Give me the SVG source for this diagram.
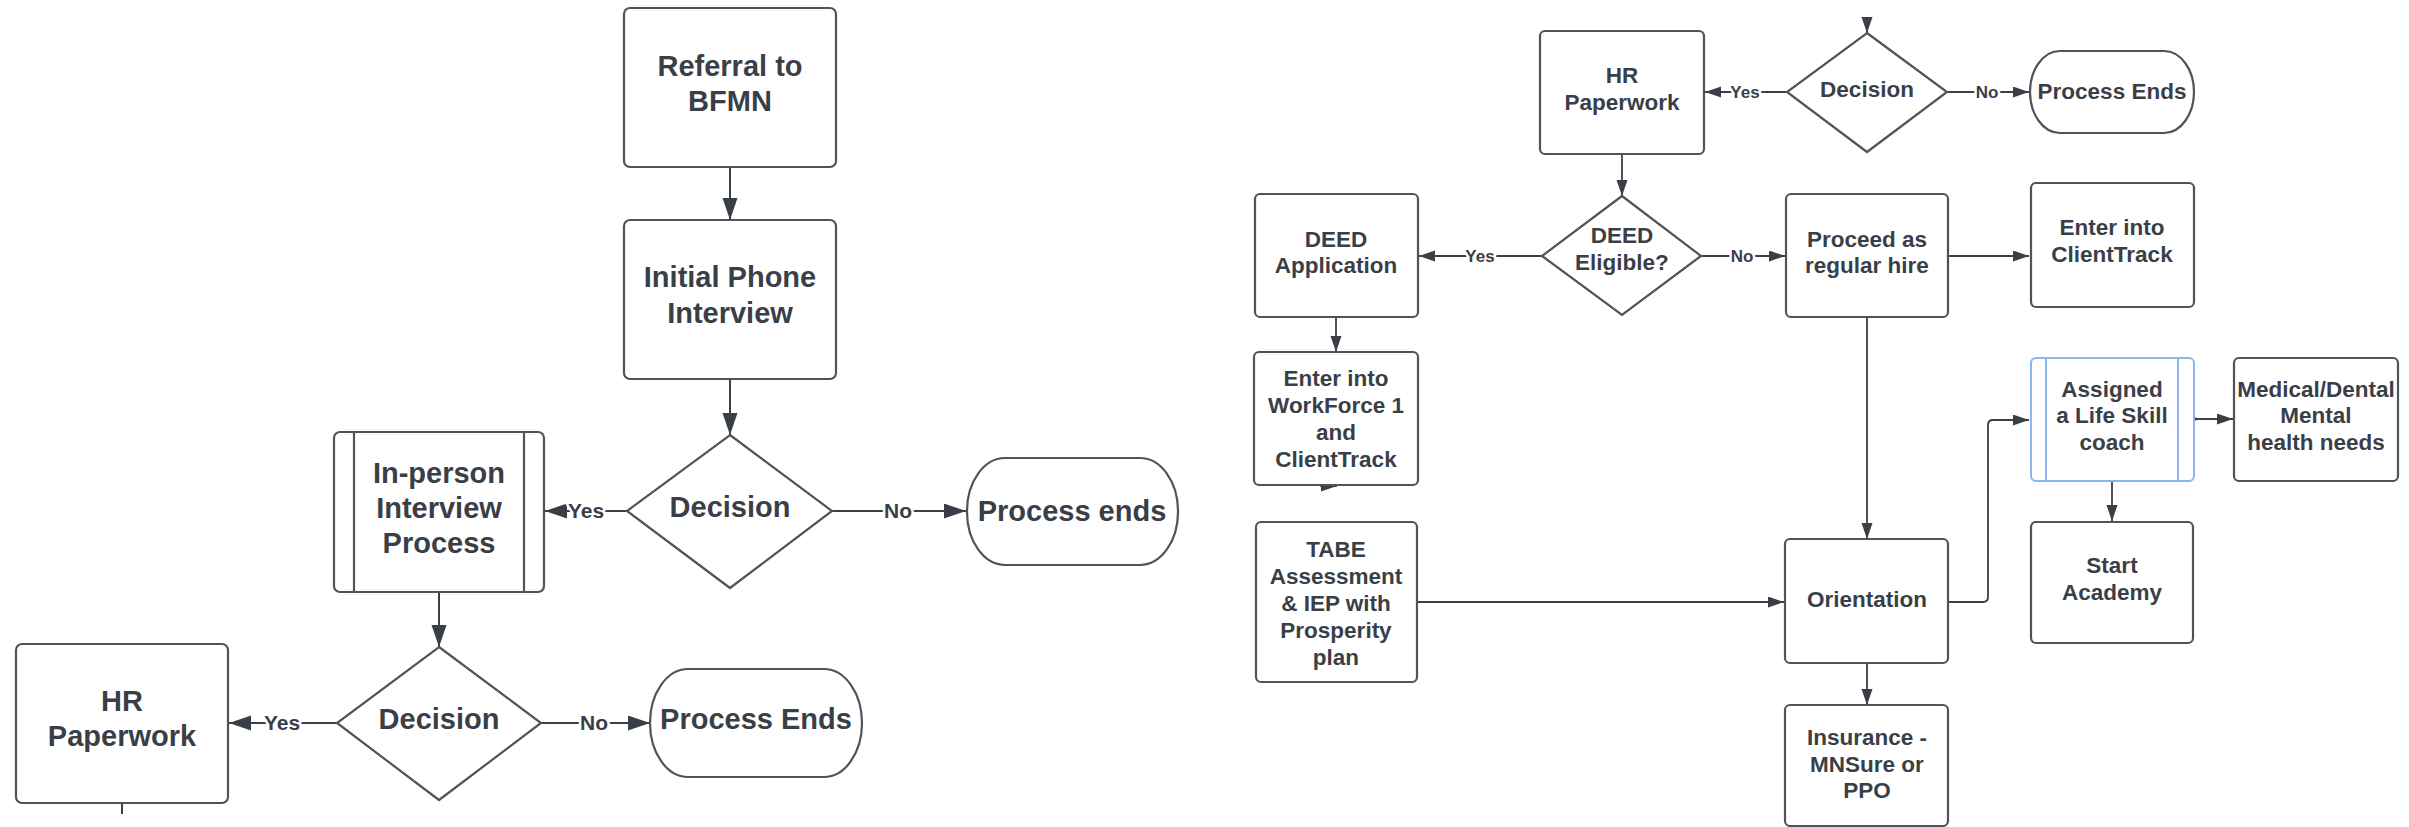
<svg xmlns="http://www.w3.org/2000/svg" width="2409" height="827" viewBox="0 0 2409 827">
<style>
.box{fill:#fff;stroke:#505459;stroke-width:2.2}
.blue{fill:#fff;stroke:#8ab8ec;stroke-width:2}
.bl{stroke:#8ab8ec;stroke-width:2}
.inner{stroke:#505459;stroke-width:2.2}
.t{font-family:"Liberation Sans",Arial,sans-serif;font-weight:bold;fill:#3a3f47;text-anchor:middle}
.L{font-size:29px}
.R{font-size:22.5px}
.c{stroke:#3a3f47;stroke-width:2;fill:none}
.cr{stroke:#3a3f47;stroke-width:1.8;fill:none}
.lbl{font-family:"Liberation Sans",Arial,sans-serif;font-weight:bold;fill:#3a3f47;text-anchor:middle;paint-order:stroke;stroke:#fff;stroke-width:5px;stroke-linejoin:round}
.lL{font-size:21px}
.lR{font-size:17px}
</style>
<defs>
<marker id="aL" markerUnits="userSpaceOnUse" markerWidth="23" markerHeight="16" refX="22" refY="7.5" orient="auto"><path d="M0,0 L22,7.5 L0,15 z" fill="#3a3f47"/></marker>
<marker id="aR" markerUnits="userSpaceOnUse" markerWidth="17" markerHeight="12" refX="16" refY="5.5" orient="auto"><path d="M0,0 L16,5.5 L0,11 z" fill="#3a3f47"/></marker>
</defs>
<rect width="2409" height="827" fill="#fff"/>

<g id="connectors">
<path class="c" d="M730,167 V220" marker-end="url(#aL)"/>
<path class="c" d="M730,379 V435" marker-end="url(#aL)"/>
<path class="c" d="M627,511 H545" marker-end="url(#aL)"/>
<path class="c" d="M832,511 H966" marker-end="url(#aL)"/>
<path class="c" d="M439,592 V647" marker-end="url(#aL)"/>
<path class="c" d="M337,723 H229" marker-end="url(#aL)"/>
<path class="c" d="M541,723 H650" marker-end="url(#aL)"/>
<path class="c" d="M122,803 V814"/>

<path class="cr" d="M1867,18 V33" marker-end="url(#aR)"/>
<path class="cr" d="M1787,92 H1705" marker-end="url(#aR)"/>
<path class="cr" d="M1947,92 H2029" marker-end="url(#aR)"/>
<path class="cr" d="M1622,154 V196" marker-end="url(#aR)"/>
<path class="cr" d="M1542,256 H1419" marker-end="url(#aR)"/>
<path class="cr" d="M1701,256 H1785" marker-end="url(#aR)"/>
<path class="cr" d="M1948,256 H2029" marker-end="url(#aR)"/>
<path class="cr" d="M1336,317 V352" marker-end="url(#aR)"/>
<path class="cr" d="M1320,486 H1337" marker-end="url(#aR)"/>
<path class="cr" d="M1417,602 H1784" marker-end="url(#aR)"/>
<path class="cr" d="M1867,317 V539" marker-end="url(#aR)"/>
<path class="cr" d="M1867,663 V705" marker-end="url(#aR)"/>
<path class="cr" d="M1948,602 H1983 Q1988,602 1988,597 V425 Q1988,420 1993,420 H2029" marker-end="url(#aR)"/>
<path class="cr" d="M2186,419 H2200" marker-end="url(#aR)"/>
<path class="cr" d="M2200,419 H2233" marker-end="url(#aR)"/>
<path class="cr" d="M2112,481 V521" marker-end="url(#aR)"/>

<text class="lbl lL" x="586" y="518">Yes</text>
<text class="lbl lL" x="898" y="518">No</text>
<text class="lbl lL" x="282" y="730">Yes</text>
<text class="lbl lL" x="594" y="730">No</text>
<text class="lbl lR" x="1745" y="98">Yes</text>
<text class="lbl lR" x="1987" y="98">No</text>
<text class="lbl lR" x="1480" y="262">Yes</text>
<text class="lbl lR" x="1742" y="262">No</text>
</g>

<g id="referral">
<rect class="box" x="624" y="8" width="212" height="159" rx="6"/>
<text class="t L" x="730" y="76">Referral to</text>
<text class="t L" x="730" y="111">BFMN</text>
</g>
<g id="phone">
<rect class="box" x="624" y="220" width="212" height="159" rx="6"/>
<text class="t L" x="730" y="287">Initial Phone</text>
<text class="t L" x="730" y="323">Interview</text>
</g>
<g id="decision1">
<path class="box" d="M730,435 L832,511 L730,588 L627,511 z"/>
<text class="t L" x="730" y="517">Decision</text>
</g>
<g id="inperson">
<rect class="box" x="334" y="432" width="210" height="160" rx="6"/>
<line class="inner" x1="354" y1="432" x2="354" y2="592"/>
<line class="inner" x1="524" y1="432" x2="524" y2="592"/>
<text class="t L" x="439" y="483">In-person</text>
<text class="t L" x="439" y="518">Interview</text>
<text class="t L" x="439" y="553">Process</text>
</g>
<g id="processends1">
<rect class="box" x="967" y="458" width="211" height="107" rx="38" ry="53"/>
<text class="t L" x="1072" y="521">Process ends</text>
</g>
<g id="decision2">
<path class="box" d="M439,647 L541,723 L439,800 L337,723 z"/>
<text class="t L" x="439" y="729">Decision</text>
</g>
<g id="hr1">
<rect class="box" x="16" y="644" width="212" height="159" rx="6"/>
<text class="t L" x="122" y="711">HR</text>
<text class="t L" x="122" y="746">Paperwork</text>
</g>
<g id="processends2">
<rect class="box" x="650" y="669" width="212" height="108" rx="38" ry="54"/>
<text class="t L" x="756" y="729">Process Ends</text>
</g>

<g id="decision3">
<path class="box" d="M1867,33 L1947,92 L1867,152 L1787,92 z"/>
<text class="t R" x="1867" y="97">Decision</text>
</g>
<g id="hr2">
<rect class="box" x="1540" y="31" width="164" height="123" rx="5"/>
<text class="t R" x="1622" y="83">HR</text>
<text class="t R" x="1622" y="110">Paperwork</text>
</g>
<g id="processends3">
<rect class="box" x="2030" y="51" width="164" height="82" rx="30" ry="41"/>
<text class="t R" x="2112" y="99">Process Ends</text>
</g>
<g id="deedeligible">
<path class="box" d="M1622,196 L1701,256 L1622,315 L1542,256 z"/>
<text class="t R" x="1622" y="243">DEED</text>
<text class="t R" x="1622" y="270">Eligible?</text>
</g>
<g id="deedapp">
<rect class="box" x="1255" y="194" width="163" height="123" rx="5"/>
<text class="t R" x="1336" y="247">DEED</text>
<text class="t R" x="1336" y="273">Application</text>
</g>
<g id="proceed">
<rect class="box" x="1786" y="194" width="162" height="123" rx="5"/>
<text class="t R" x="1867" y="247">Proceed as</text>
<text class="t R" x="1867" y="273">regular hire</text>
</g>
<g id="clienttrack">
<rect class="box" x="2031" y="183" width="163" height="124" rx="5"/>
<text class="t R" x="2112" y="235">Enter into</text>
<text class="t R" x="2112" y="262">ClientTrack</text>
</g>
<g id="workforce">
<rect class="box" x="1254" y="352" width="164" height="133" rx="5"/>
<text class="t R" x="1336" y="386">Enter into</text>
<text class="t R" x="1336" y="413">WorkForce 1</text>
<text class="t R" x="1336" y="440">and</text>
<text class="t R" x="1336" y="467">ClientTrack</text>
</g>
<g id="tabe">
<rect class="box" x="1256" y="522" width="161" height="160" rx="5"/>
<text class="t R" x="1336" y="557">TABE</text>
<text class="t R" x="1336" y="584">Assessment</text>
<text class="t R" x="1336" y="611">&amp; IEP with</text>
<text class="t R" x="1336" y="638">Prosperity</text>
<text class="t R" x="1336" y="665">plan</text>
</g>
<g id="orientation">
<rect class="box" x="1785" y="539" width="163" height="124" rx="5"/>
<text class="t R" x="1867" y="607">Orientation</text>
</g>
<g id="insurance">
<rect class="box" x="1785" y="705" width="163" height="121" rx="5"/>
<text class="t R" x="1867" y="745">Insurance -</text>
<text class="t R" x="1867" y="772">MNSure or</text>
<text class="t R" x="1867" y="798">PPO</text>
</g>
<g id="assigned">
<rect class="blue" x="2031" y="358" width="163" height="123" rx="5"/>
<line class="bl" x1="2046" y1="358" x2="2046" y2="481"/>
<line class="bl" x1="2178" y1="358" x2="2178" y2="481"/>
<text class="t R" x="2112" y="397">Assigned</text>
<text class="t R" x="2112" y="423">a Life Skill</text>
<text class="t R" x="2112" y="450">coach</text>
</g>
<g id="medical">
<rect class="box" x="2234" y="358" width="164" height="123" rx="5"/>
<text class="t R" x="2316" y="397">Medical/Dental</text>
<text class="t R" x="2316" y="423">Mental</text>
<text class="t R" x="2316" y="450">health needs</text>
</g>
<g id="start">
<rect class="box" x="2031" y="522" width="162" height="121" rx="5"/>
<text class="t R" x="2112" y="573">Start</text>
<text class="t R" x="2112" y="600">Academy</text>
</g>
</svg>
